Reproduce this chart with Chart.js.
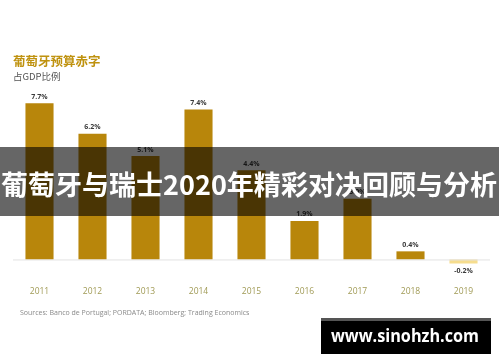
<!DOCTYPE html>
<html>
<head>
<meta charset="utf-8">
<script src="https://cdn.jsdelivr.net/npm/chart.js@4/dist/chart.umd.min.js"></script>
<style>
  html, body { margin: 0; padding: 0; background: #fff; }
  #wrap { width: 500px; height: 362px; position: relative; }
</style>
</head>
<body>
<div id="wrap"><canvas id="deficitChart" width="500" height="362"></canvas></div>
<script>
// Datos
const years = ['2011', '2012', '2013', '2014', '2015', '2016', '2017', '2018', '2019'];
const deficitPct = [7.7, 6.2, 5.1, 7.4, 4.4, 1.9, 3.0, 0.4, -0.2];

const titleText = '葡萄牙预算赤字';
const subtitleText = '占GDP比例';
const sourceText = 'Sources: Banco de Portugal; PORDATA; Bloomberg; Trading Economics';
const bannerText = '葡萄牙与瑞士2020年精彩对决回顾与分析';
const watermarkText = 'www.sinohzh.com';

const colors = {
    gold: '#b8860b',
    paleGold: '#f6dd8e',
    title: '#bf920f',
    label: '#3a3a3a',
    year: '#a09a55',
    source: '#8a8a8a',
    axis: '#e2e2e2'
};

const fontCJK = '"Noto Sans CJK SC", "Noto Sans", sans-serif';
const fontLatin = '"Open Sans", "Noto Sans", sans-serif';

// escribe un texto ajustado a un ancho dado
function fitText(ctx, txt, x, y, width) {
    const w = ctx.measureText(txt).width;
    ctx.save();
    ctx.translate(x, y);
    ctx.scale(width / w, 1);
    ctx.textAlign = 'left';
    ctx.fillText(txt, 0, 0);
    ctx.restore();
}

// Etiquetas, textos y capas
const decorPlugin = {
    id: 'decor',
    afterDatasetsDraw(chart) {
        const ctx = chart.ctx;
        const x = chart.scales.x;
        const y = chart.scales.y;
        const area = chart.chartArea;
        const zero = y.getPixelForValue(0);

        ctx.save();
        // línea base
        ctx.strokeStyle = colors.axis;
        ctx.lineWidth = 1;
        ctx.beginPath();
        ctx.moveTo(area.left, zero + 0.5);
        ctx.lineTo(area.right, zero + 0.5);
        ctx.stroke();

        // valores
        ctx.textAlign = 'center';
        ctx.font = 'bold 7px ' + fontLatin;
        ctx.fillStyle = colors.label;
        deficitPct.forEach((v, i) => {
            const px = x.getPixelForValue(i);
            const py = y.getPixelForValue(v);
            const txt = v.toFixed(1) + '%';
            if (v >= 0) {
                ctx.textBaseline = 'bottom';
                ctx.fillText(txt, px, py - 3);
            } else {
                ctx.textBaseline = 'top';
                ctx.fillText(txt, px, py + 4);
            }
        });

        // años
        ctx.font = '8.5px ' + fontLatin;
        ctx.fillStyle = colors.year;
        ctx.textBaseline = 'middle';
        years.forEach((yr, i) => {
            ctx.fillText(yr, x.getPixelForValue(i), 292);
        });

        // título
        ctx.textAlign = 'left';
        ctx.font = 'bold 12.5px ' + fontCJK;
        ctx.fillStyle = colors.title;
        ctx.fillText(titleText, 13, 61);
        ctx.font = '9.5px ' + fontCJK;
        ctx.fillStyle = '#555';
        ctx.fillText(subtitleText, 13, 76);

        // fuente
        ctx.font = '7px ' + fontLatin;
        ctx.fillStyle = colors.source;
        ctx.fillText(sourceText, 20, 313);

        // banda oscura
        ctx.fillStyle = 'rgba(0,0,0,0.6)';
        ctx.fillRect(0, 147, 499, 69);
        ctx.font = 'bold 27px ' + fontCJK;
        ctx.fillStyle = '#fff';
        fitText(ctx, bannerText, 1, 185, 496);

        // marca de agua
        ctx.fillStyle = '#555';
        ctx.fillRect(321, 318, 170, 3);
        ctx.fillStyle = '#000';
        ctx.fillRect(321, 321, 170, 33);
        ctx.font = 'bold 18px ' + fontLatin;
        ctx.fillStyle = '#fff';
        fitText(ctx, watermarkText, 331, 337, 148);
        ctx.restore();
    }
};

function initDeficitChart() {
    const ctx = document.getElementById('deficitChart');
    if (!ctx) return;

    new Chart(ctx, {
        type: 'bar',
        data: {
            labels: years,
            datasets: [{
                data: deficitPct,
                backgroundColor: deficitPct.map(v => v >= 0 ? colors.gold : colors.paleGold),
                barPercentage: 0.53,
                categoryPercentage: 1
            }]
        },
        options: {
            responsive: false,
            animation: false,
            layout: {
                padding: { left: 13, right: 10, top: 77, bottom: 62 }
            },
            plugins: {
                legend: { display: false },
                tooltip: { enabled: false }
            },
            scales: {
                x: { display: false },
                y: { display: false, min: -2, max: 9 }
            }
        },
        plugins: [decorPlugin]
    });
}

initDeficitChart();
</script>
</body>
</html>
